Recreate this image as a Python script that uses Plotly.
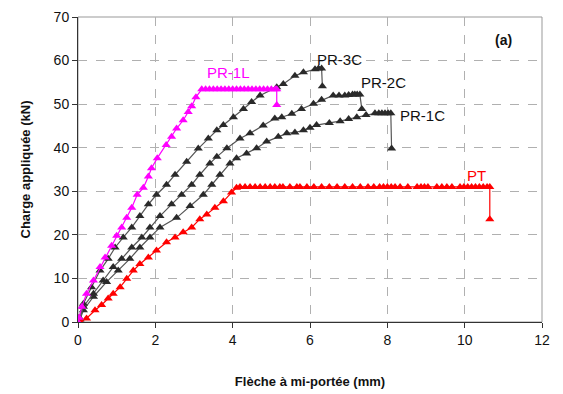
import plotly.graph_objects as go

# ---- data (deflection mm, load kN) ----
pr1l_x = [0.0, 0.03, 0.1, 0.22, 0.40, 0.57, 0.70, 0.87, 1.0, 1.13, 1.26, 1.39, 1.53, 1.69, 1.82,
          1.9, 2.05, 2.28, 2.42, 2.55, 2.72, 2.85, 2.94, 3.05, 3.2,
          3.3, 3.4, 3.5, 3.6, 3.7, 3.8, 3.9, 4.0, 4.1, 4.2, 4.3, 4.4, 4.5, 4.6, 4.7, 4.8, 4.9, 5.0, 5.1, 5.14, 5.14]
pr1l_y = [0.0, 1.0, 3.5, 6.5, 9.5, 12.6, 14.8, 17.5, 19.8, 21.7, 23.9, 26.2, 29.2, 30.8, 33.4,
          35.3, 37.6, 40.6, 42.5, 44.4, 46.3, 48.2, 49.5, 51.6, 53.4,
          53.4, 53.4, 53.4, 53.4, 53.4, 53.4, 53.4, 53.4, 53.4, 53.4, 53.4, 53.4, 53.4, 53.4, 53.4, 53.4, 53.4, 53.4, 53.4, 53.4, 49.8]

pr3c_x = [0.0, 0.03, 0.14, 0.35, 0.57, 0.78, 0.96, 1.17, 1.39, 1.6, 1.82, 2.03, 2.29, 2.51, 2.81,
          3.11, 3.37, 3.59, 3.76, 4.02, 4.28, 4.49, 4.71, 5.14, 5.31, 5.61, 5.83, 6.13, 6.22, 6.30, 6.32]
pr3c_y = [0.0, 1.0, 4.2, 8.0, 11.8, 14.5, 17.1, 19.4, 21.7, 24.3, 27.0, 29.2, 31.5, 33.8, 36.8,
          39.8, 42.1, 44.0, 45.2, 47.0, 48.9, 50.5, 52.0, 53.9, 54.6, 56.5, 57.3, 58.0, 58.2, 58.2, 54.1]

pr2c_x = [0.0, 0.05, 0.14, 0.40, 0.65, 0.91, 1.13, 1.39, 1.65, 1.86, 2.12, 2.42, 2.68, 2.94, 3.15, 3.41,
          3.59, 3.85, 4.19, 4.45, 4.79, 5.09, 5.27, 5.53, 5.78, 6.09, 6.30, 6.6, 6.75, 6.9, 7.0, 7.1, 7.16, 7.22, 7.29, 7.34]
pr2c_y = [0.0, 0.8, 3.5, 6.5, 9.5, 12.6, 14.5, 17.1, 19.4, 21.7, 24.3, 27.0, 29.2, 31.5, 33.8, 36.4,
          37.9, 39.9, 42.1, 43.3, 45.1, 46.7, 47.0, 47.8, 48.9, 50.1, 51.0, 52.0, 52.0, 52.0, 52.1, 52.2, 52.2, 52.2, 52.2, 48.9]

pr1c_x = [0.0, 0.05, 0.14, 0.40, 0.74, 1.04, 1.34, 1.6, 1.86, 2.12, 2.55, 2.9, 3.24, 3.46, 3.67, 3.93,
          4.1, 4.36, 4.62, 4.88, 5.18, 5.4, 5.61, 5.83, 6.0, 6.17, 6.5, 6.78, 7.0, 7.21, 7.45, 7.68,
          7.78, 7.86, 7.94, 8.02, 8.09, 8.11]
pr1c_y = [0.0, 0.6, 2.7, 5.8, 9.2, 11.8, 14.5, 17.1, 19.4, 21.7, 23.9, 26.6, 29.2, 31.5, 33.8, 36.4,
          37.6, 38.7, 39.9, 41.4, 42.5, 43.3, 43.5, 44.0, 44.6, 45.2, 45.7, 46.1, 46.6, 47.0, 47.5, 47.9,
          47.9, 47.9, 47.9, 47.9, 47.9, 39.8]

pt_x = [0.0, 0.05, 0.22, 0.44, 0.61, 0.78, 0.91, 1.09, 1.26, 1.43, 1.6, 1.82, 2.03, 2.29, 2.51, 2.72,
        2.94, 3.15, 3.33, 3.54, 3.76, 3.97, 4.1,
        4.19, 4.32, 4.45, 4.58, 4.71, 4.84, 4.97, 5.09, 5.22, 5.3, 5.48, 5.66, 5.74, 5.92,
        6.1, 6.3, 6.5, 6.7, 6.9, 7.1, 7.3, 7.5, 7.65, 7.8, 7.9, 8.0, 8.1, 8.2, 8.33, 8.53,
        8.77, 8.87, 8.96, 9.05, 9.28, 9.41, 9.54, 9.67, 9.88, 9.98, 10.08, 10.18, 10.28, 10.38,
        10.48, 10.58, 10.65, 10.65]
pt_y = [0.0, 0.2, 0.8, 2.7, 3.9, 5.4, 6.5, 8.0, 9.9, 11.8, 13.3, 14.8, 16.4, 18.3, 19.4, 20.6,
        21.7, 23.6, 24.7, 26.2, 27.7, 29.7, 30.8,
        31.0, 31.0, 31.0, 31.0, 31.0, 31.0, 31.0, 31.0, 31.0, 31.0, 31.0, 31.0, 31.0, 31.0,
        31.0, 31.0, 31.0, 31.0, 31.0, 31.0, 31.0, 31.0, 31.0, 31.0, 31.0, 31.0, 31.0, 31.0, 31.0, 31.0,
        31.0, 31.0, 31.0, 31.0, 31.0, 31.0, 31.0, 31.0, 31.0, 31.0, 31.0, 31.0, 31.0, 31.0,
        31.0, 31.0, 31.0, 23.6]

series_names = ["PR-1L", "PR-3C", "PR-2C", "PR-1C", "PT"]
x_ticks = [0, 2, 4, 6, 8, 10, 12]
y_ticks = [0, 10, 20, 30, 40, 50, 60, 70]

# label anchor positions (data coords)
label_x = [3.9, 6.75, 7.9, 8.9, 10.3]
label_y = [57.3, 60.3, 55.0, 47.3, 33.6]

FONT = "Liberation Sans, Arial, sans-serif"
MAG = "#ff00ff"
RED = "#ff0000"
DARK = "#2a2a2a"

fig = go.Figure()

def add(xs, ys, mcol, lcol, name):
    fig.add_trace(go.Scatter(
        x=xs, y=ys, mode="lines+markers", name=name,
        line=dict(color=lcol, width=1.2),
        marker=dict(symbol="triangle-up", size=8, color=mcol, line=dict(width=0)),
        showlegend=False))

add(pr1c_x, pr1c_y, DARK, "#555555", "PR-1C")
add(pr2c_x, pr2c_y, DARK, "#555555", "PR-2C")
add(pr3c_x, pr3c_y, DARK, "#555555", "PR-3C")
add(pt_x, pt_y, RED, RED, "PT")
add(pr1l_x, pr1l_y, MAG, MAG, "PR-1L")

label_colors = [MAG, "#111111", "#111111", "#111111", RED]
for name, lx, ly, c in zip(series_names, label_x, label_y, label_colors):
    fig.add_annotation(x=lx, y=ly, text=name, showarrow=False,
                       font=dict(family=FONT, size=15, color=c))

fig.add_annotation(x=11.0, y=64.8, text="<b>(a)</b>", showarrow=False,
                   font=dict(family=FONT, size=14, color="#111111"))

# light frame around plot area
fig.add_shape(type="rect", xref="paper", yref="paper", x0=0, y0=0, x1=1, y1=1,
              line=dict(color="#999999", width=1), layer="below")

fig.update_layout(
    width=563, height=394,
    margin=dict(l=70, r=29, t=9, b=80),
    paper_bgcolor="white", plot_bgcolor="white",
    font=dict(family=FONT, size=14, color="#111111"),
    showlegend=False,
)
fig.update_xaxes(
    range=[0, 12], tickvals=x_ticks, ticks="outside", ticklen=5, tickcolor="#333333",
    showline=True, linecolor="#333333", linewidth=1, automargin=False,
    showgrid=True, gridcolor="#b0b0b0", griddash="dash", gridwidth=1, zeroline=False,
    title=dict(text="<b>Flèche à mi-portée (mm)</b>", font=dict(size=13), standoff=30),
    tickfont=dict(size=14), ticklabeloverflow="allow",
)
fig.update_yaxes(
    range=[0, 70], tickvals=y_ticks, ticks="outside", ticklen=5, tickcolor="#333333",
    showline=True, linecolor="#333333", linewidth=1, automargin=False,
    showgrid=True, gridcolor="#b0b0b0", griddash="dash", gridwidth=1, zeroline=False,
    title=dict(text="<b>Charge appliquée (kN)</b>", font=dict(size=13), standoff=20),
    tickfont=dict(size=14), ticklabeloverflow="allow",
)

fig.write_html("out.html")
